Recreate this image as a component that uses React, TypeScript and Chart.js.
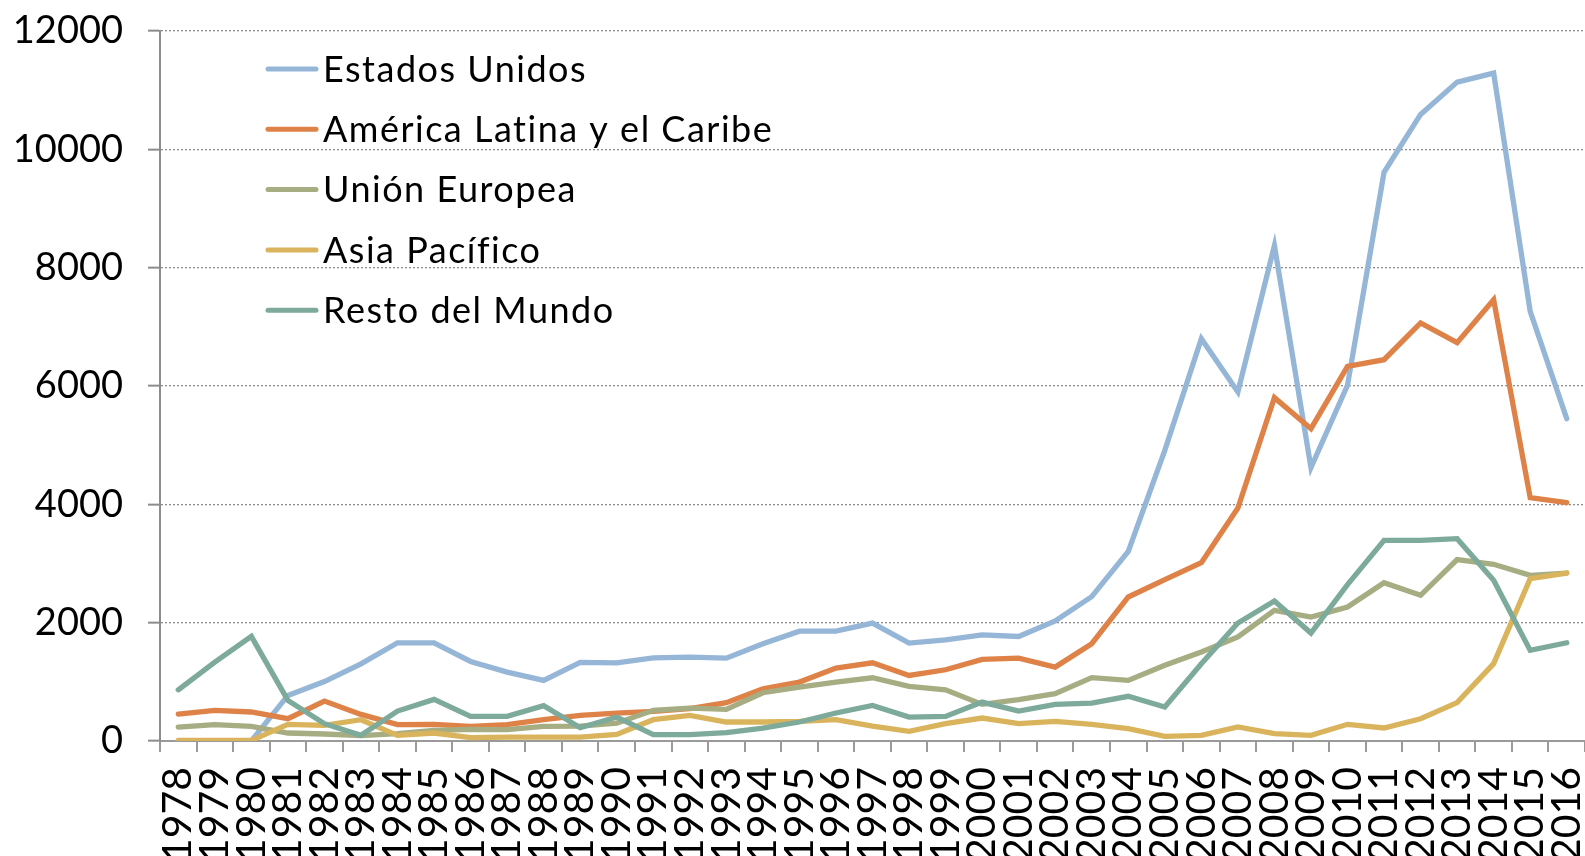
import React, { useEffect, useRef } from "react";
import { Chart, registerables } from "chart.js";

Chart.register(...registerables);

const years = [
  "1978", "1979", "1980", "1981", "1982", "1983", "1984", "1985", "1986", "1987",
  "1988", "1989", "1990", "1991", "1992", "1993", "1994", "1995", "1996", "1997",
  "1998", "1999", "2000", "2001", "2002", "2003", "2004", "2005", "2006", "2007",
  "2008", "2009", "2010", "2011", "2012", "2013", "2014", "2015", "2016",
];

const estadosUnidos = [
  0, 0, 0, 770, 1005, 1305, 1660, 1660, 1345, 1165,
  1025, 1328, 1320, 1405, 1418, 1400, 1643, 1857, 1857, 1992,
  1654, 1710, 1795, 1767, 2030, 2440, 3205, 4913, 6800, 5900,
  8372, 4620, 6011, 9613, 10590, 11137, 11289, 7262, 5448,
];

const americaLatina = [
  456, 518, 490, 377, 675, 450, 276, 281, 248, 276,
  360, 433, 470, 501, 546, 647, 883, 996, 1232, 1322,
  1108, 1204, 1378, 1401, 1250, 1645, 2434, 2727, 3014, 3938,
  5803, 5279, 6332, 6445, 7065, 6732, 7459, 4113, 4028,
];

const unionEuropea = [
  236, 276, 248, 135, 118, 90, 124, 180, 197, 191,
  248, 253, 300, 518, 557, 534, 816, 911, 996, 1069,
  923, 866, 619, 698, 800, 1070, 1025, 1279, 1504, 1758,
  2208, 2096, 2265, 2676, 2462, 3065, 2986, 2800, 2839,
];

const asiaPacifico = [
  10, 10, 10, 281, 264, 360, 96, 135, 56, 67,
  67, 67, 112, 360, 433, 321, 321, 332, 360, 253,
  163, 293, 388, 293, 330, 282, 208, 79, 96, 237,
  124, 96, 282, 220, 377, 648, 1307, 2744, 2839,
];

const restoDelMundo = [
  866, 1333, 1767, 686, 293, 96, 506, 703, 416, 416,
  596, 225, 405, 107, 107, 141, 219, 321, 473, 602,
  405, 416, 658, 506, 619, 641, 755, 574, 1307, 1994,
  2366, 1825, 2642, 3391, 3391, 3420, 2715, 1532, 1661,
];

const seriesNames = [
  "Estados Unidos",
  "América Latina y el Caribe",
  "Unión Europea",
  "Asia Pacífico",
  "Resto del Mundo",
];
const seriesData = [estadosUnidos, americaLatina, unionEuropea, asiaPacifico, restoDelMundo];
const seriesColors = ["#95B6D6", "#DF8248", "#A6AD82", "#DAB45C", "#7DAA9B"];

const yMin = 0;
const yMax = 12000;
const yStep = 2000;

const FONT = "Lato, 'DejaVu Sans', sans-serif";

const insideLegend = {
  id: "insideLegend",
  afterDraw(chart: any) {
    const ctx = chart.ctx;
    ctx.save();
    chart.data.datasets.forEach((ds: any, i: number) => {
      const y = 69 + i * 60.3;
      ctx.strokeStyle = ds.borderColor;
      ctx.lineWidth = 5;
      ctx.lineCap = "round";
      ctx.beginPath();
      ctx.moveTo(268, y);
      ctx.lineTo(316, y);
      ctx.stroke();
      ctx.fillStyle = "#000";
      ctx.font = `36px ${FONT}`;
      try {
        (ctx as any).letterSpacing = "1.5px";
      } catch (e) {
        /* ignore */
      }
      ctx.textBaseline = "middle";
      ctx.textAlign = "left";
      ctx.fillText(ds.label, 323, y + 1);
    });
    ctx.restore();
  },
};

export default function App() {
  const ref = useRef<HTMLCanvasElement | null>(null);

  useEffect(() => {
    if (!ref.current) return;
    const chart = new Chart(ref.current, {
      type: "line",
      data: {
        labels: years,
        datasets: seriesNames.map((name, i) => ({
          label: name,
          data: seriesData[i],
          borderColor: seriesColors[i],
          backgroundColor: seriesColors[i],
          borderWidth: 5.3,
          pointRadius: 0,
          pointHoverRadius: 0,
          tension: 0,
          fill: false,
          borderCapStyle: "round" as const,
          borderJoinStyle: "miter" as const,
          order: seriesNames.length - i,
        })),
      },
      options: {
        responsive: false,
        animation: false,
        layout: { padding: { top: 31, left: 0, right: 0, bottom: 0 } },
        plugins: {
          legend: { display: false },
          tooltip: { enabled: false },
        },
        scales: {
          x: {
            offset: true,
            ticks: {
              color: "#000",
              font: { family: FONT, size: 41 },
              minRotation: 90,
              maxRotation: 90,
              autoSkip: false,
              padding: 15,
            },
            grid: {
              offset: true,
              drawOnChartArea: false,
              drawTicks: true,
              tickLength: 11,
              color: "#9a9a9a",
              lineWidth: 2,
            },
            border: { display: true, color: "#9a9a9a", width: 2 },
            afterFit: (s: any) => {
              s.height = 115;
              s.paddingLeft = 0;
              s.paddingRight = 0;
            },
          },
          y: {
            min: yMin,
            max: yMax,
            ticks: {
              stepSize: yStep,
              color: "#000",
              font: { family: FONT, size: 38 },
              padding: 25,
              callback: (v: any) => String(v),
            },
            grid: {
              color: "#8c8c8c",
              lineWidth: 1.3,
              tickLength: 12,
              tickColor: "#8c8c8c",
              tickWidth: 2,
            },
            border: { display: true, color: "#8c8c8c", width: 2, dash: [2, 2] },
            afterFit: (s: any) => {
              s.width = 160;
              s.paddingTop = 0;
              s.paddingBottom = 0;
            },
          },
        },
      },
      plugins: [insideLegend],
    });
    return () => chart.destroy();
  }, []);

  return (
    <div style={{ position: "absolute", left: 0, top: 0, width: 1585, height: 856, background: "#fff" }}>
      <canvas ref={ref} width={1585} height={856} style={{ display: "block" }} />
    </div>
  );
}
